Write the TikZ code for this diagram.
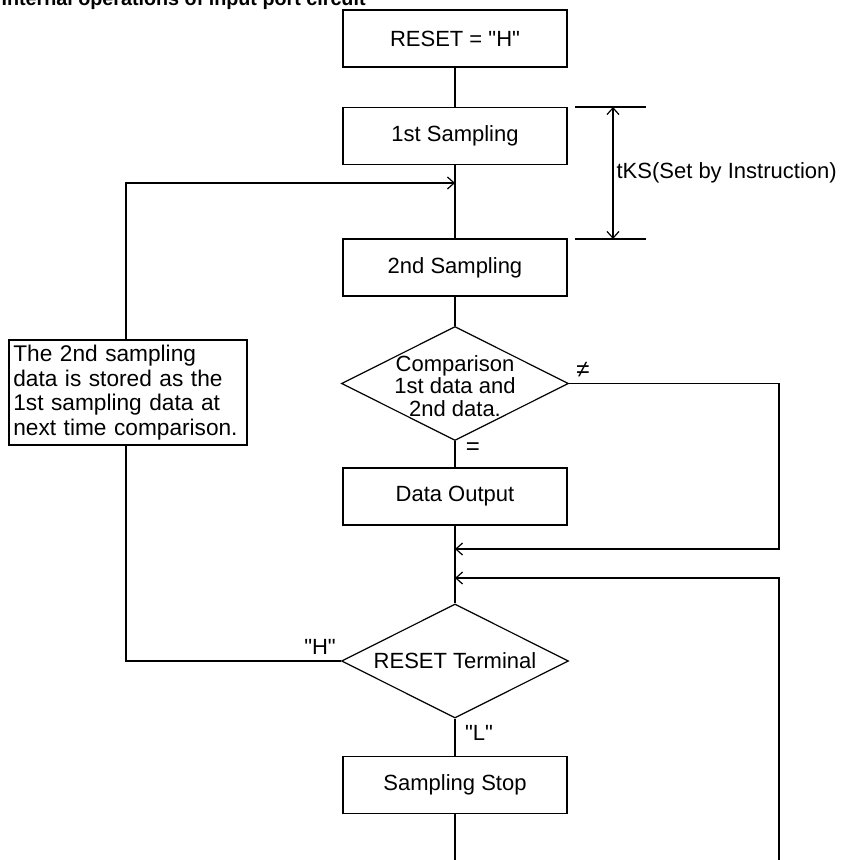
\documentclass[tikz,border=0pt]{standalone}
\usepackage{fontspec}
\setmainfont{Liberation Sans}[Ligatures=TeXOff]
\usetikzlibrary{shapes.geometric,arrows.meta}
\newcommand\sq{\char34\relax}
\begin{document}
\begin{tikzpicture}[x=0.75pt,y=-0.75pt,
  font=\fontsize{16.5}{19}\selectfont,
  line width=0.9pt,
  box/.style={draw, rectangle, minimum width=168pt, minimum height=42.75pt, inner sep=0pt},
  dia/.style={draw, diamond, minimum width=170.25pt, minimum height=85.5pt, inner sep=0pt},
  tip/.style={-{Straight Barb[length=5pt,width=9pt]}},
  dtip/.style={{Straight Barb[length=5pt,width=9pt]}-{Straight Barb[length=5pt,width=9pt]}},
  lbl/.style={inner sep=0pt}]
\useasboundingbox (0,0) rectangle (856,860);

% title (cut off by the top edge, as in the reference)
\node[lbl, anchor=base west, font=\bfseries\fontsize{14.8}{17}\selectfont] (title) at (1,5) {Internal operations of input port circuit};

% main column
\node[box] (reset) at (455,38.5) {RESET = \sq H\sq};
\node[box] (s1) at (455,136) {1st Sampling};
\node[box] (s2) at (455,267.5) {2nd Sampling};
\node[dia] (cmp) at (455,383.5) {};
\node[lbl, align=center, font=\fontsize{16.5}{16.8}\selectfont] (cmptxt) at (455,386) {Comparison\\1st data and\\2nd data.};
\node[box] (out) at (455,496.5) {Data Output};
\node[dia] (rst) at (455,661) {};
\node[lbl] (rsttxt) at (455,661) {RESET Terminal};
\node[box] (stop) at (455,785) {Sampling Stop};

% coordinates
\coordinate (j0) at (455,183);
\coordinate (j1) at (455,549);
\coordinate (j2) at (455,578);
\coordinate (bot) at (455,862);
\coordinate (rbot) at (779,862);
\coordinate (lc1) at (126,661);
\coordinate (lc2) at (126,183);
\coordinate (rc1) at (779,383.5);
\coordinate (rc2) at (779,549);
\coordinate (rc3) at (779,578);

% vertical flow
\draw (reset.south) -- (s1.north);
\draw (s1.south) -- (s2.north);
\draw (s2.south) -- (cmp.north);
\draw (cmp.south) -- (out.north);
\draw (out.south) -- (rst.north);
\draw (rst.south) -- (stop.north);
\draw (stop.south) -- (bot);

% loops
\draw[tip] (rst.west) -- (lc1) -- (lc2) -- (j0);
\draw[tip] (cmp.east) -- (rc1) -- (rc2) -- (j1);
\draw[tip] (rbot) -- (rc3) -- (j2);

% note box over the left line
\node[draw, fill=white, minimum width=178.5pt, minimum height=78.75pt, text width=172pt,
      inner xsep=3pt, inner ysep=0pt, align=left, font=\fontsize{17}{18.4}\selectfont] (note) at (128,392.5)
  {The 2nd sampling\\data is stored as the\\1st sampling data at\\next time comparison.};

% labels
\node[lbl, font=\fontsize{18}{20}\selectfont] (ne) at (583,370) {≠};
\node[lbl, font=\fontsize{18}{20}\selectfont] (eq) at (473,449) {=};
\node[lbl] (hl) at (320,647) {\sq H\sq};
\node[lbl] (ll) at (479,733) {\sq L\sq};

% dimension tKS
\coordinate (d1a) at (575,107);
\coordinate (d1b) at (646,107);
\coordinate (d2a) at (575,239);
\coordinate (d2b) at (646,239);
\coordinate (da) at (613,107);
\coordinate (db) at (613,239);
\draw (d1a) -- (d1b);
\draw (d2a) -- (d2b);
\draw[dtip] (da) -- (db);
\node[lbl, anchor=west] (tks) at (616,173) {tKS(Set by Instruction)};
\end{tikzpicture}
\end{document}
